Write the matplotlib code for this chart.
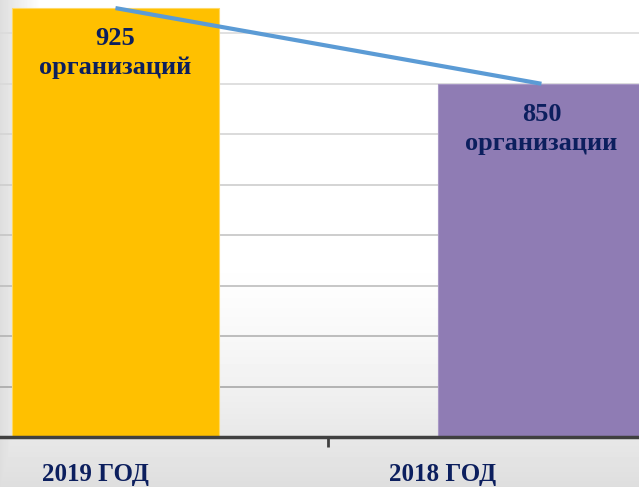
import numpy as np
import matplotlib.pyplot as plt

years = ['2019 ГОД', '2018 ГОД']
counts = [925, 850]
words = ['организаций', 'организации']
bar_colors = ['#FFC000', '#8F7CB4']
navy = '#0C1F5E'
grid_values = np.arange(550, 933, 50)

fig = plt.figure(figsize=(6.39, 4.87), dpi=100)

# slide background: white centre, greying towards the left edge and the bottom
bg = fig.add_axes([0, 0, 1, 1], zorder=0)
yy, xx = np.mgrid[0:487, 0:639]
fy = np.clip((yy - 250) / 237, 0, 1) ** 1.5
fx = np.clip((40 - xx) / 40, 0, 1)
shade = 1 - 0.13 * np.maximum(fx, fy)
bg.imshow(shade, cmap='gray', vmin=0, vmax=1, aspect='auto', extent=[0, 1, 0, 1])
bg.axis('off')

ax = fig.add_axes([0, 50 / 487, 1, 437 / 487], zorder=1)
ax.patch.set_alpha(0)
x = np.arange(len(counts))

# gridlines darken towards the bottom
for k, g in enumerate(grid_values[::-1]):
    t = k / (len(grid_values) - 1)
    c = 0.86 - 0.2 * t ** 1.5
    ax.axhline(g, color=(c, c, c), linewidth=1.2, zorder=1)

ax.bar(x, counts, width=0.486, color=bar_colors, edgecolor=['#FFD966', '#A898C6'],
       linewidth=0.8, zorder=2)
ax.plot(x, counts, color='#5B9BD5', linewidth=3, solid_capstyle='butt', zorder=3)

ax.set_ylim(500, 933)
ax.set_xlim(-0.271, 1.229)
ax.set_yticks([])
ax.set_xticks([0.5])
ax.set_xticklabels([])
ax.tick_params(axis='x', length=7, width=2, color='#404040')
for s in ['top', 'right', 'left']:
    ax.spines[s].set_visible(False)
ax.spines['bottom'].set_color('#404040')
ax.spines['bottom'].set_linewidth(2.5)

for i, v in enumerate(counts):
    ax.text(i, v - 19, f'{v}\n{words[i]}', ha='center', va='top', fontsize=19,
            fontweight='bold', family='Liberation Serif', color=navy,
            linespacing=1.32, zorder=4)

fig.text(95 / 639, 6 / 487, years[0], ha='center', va='baseline', fontsize=18,
         fontweight='bold', family='Liberation Serif', color=navy)
fig.text(443 / 639, 6 / 487, years[1], ha='center', va='baseline', fontsize=18,
         fontweight='bold', family='Liberation Serif', color=navy)

fig.savefig('out.png', dpi=100)
